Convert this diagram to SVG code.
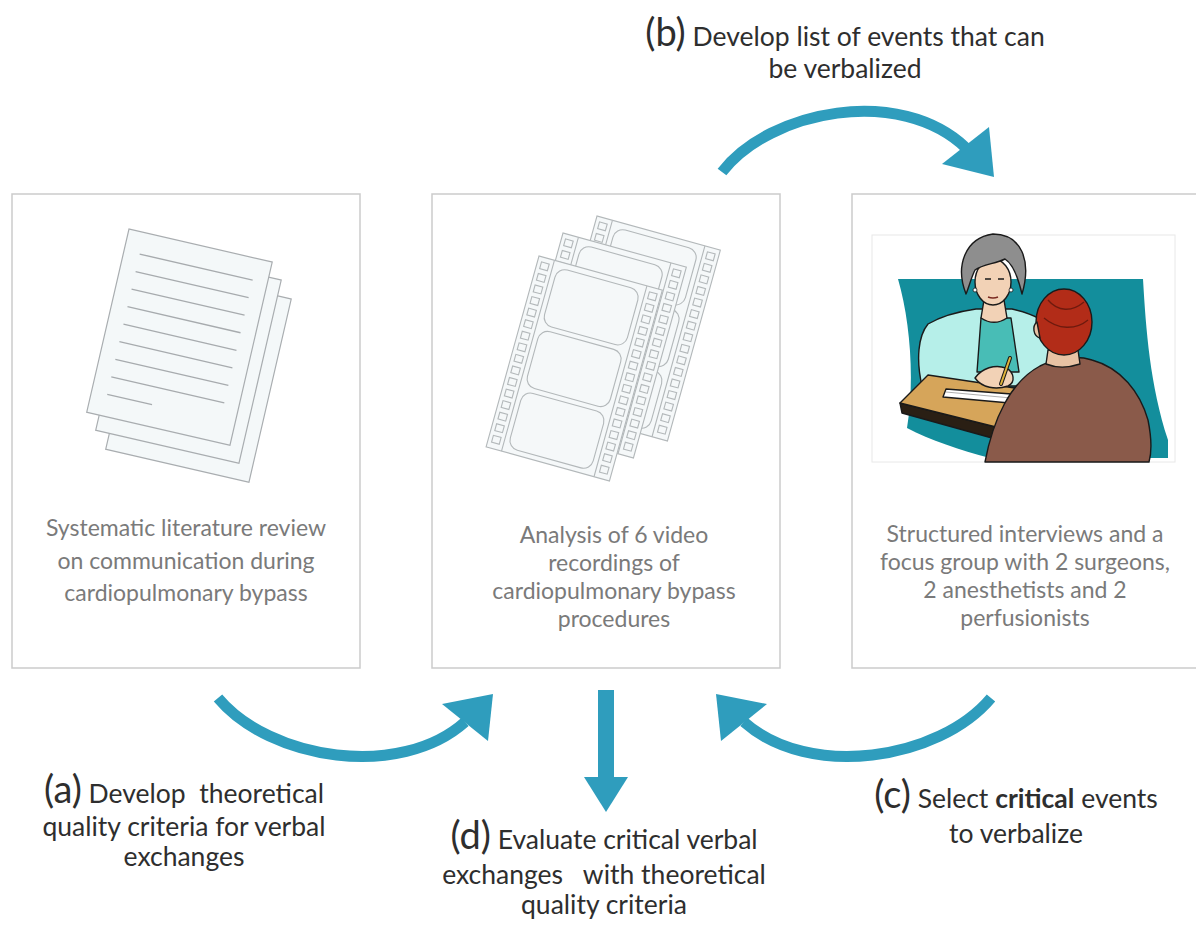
<svg xmlns="http://www.w3.org/2000/svg" width="1196" height="929" viewBox="0 0 1196 929">
  <style>
    .box { fill: #ffffff; stroke: #cbcbcb; stroke-width: 1.5; }
    .desc { font-family: Lato, "Liberation Sans", sans-serif; font-size: 23px; fill: #7a7a7a; text-anchor: middle; }
    .lbl { font-family: Lato, "Liberation Sans", sans-serif; font-size: 26.5px; fill: #2e2e2e; text-anchor: middle; }
    .tag { font-size: 38px; }
    .arc { fill: none; stroke: #2f9dbd; stroke-width: 11; }
    .head { fill: #2f9dbd; }
    .page { fill: #f4f8f9; stroke: #a9adb0; stroke-width: 1.2; }
    .pline { stroke: #a7abae; stroke-width: 1.3; }
    .film { fill: #f5f8f9; stroke: #b3b8ba; stroke-width: 1.1; }
    .ink { stroke: #1a1a1a; stroke-width: 1.4; stroke-linejoin: round; }
  </style>
  <defs>
    <g id="sheet">
      <rect class="page" x="0" y="0" width="147" height="188"/>
    </g>
    <g id="sheet-text">
      <rect class="page" x="0" y="0" width="147" height="188"/>
      <path class="pline" d="M16 22H132M16 40H132M16 58H132M16 76H132M16 94H132M16 112H132M16 130H132M16 148H132M16 166H62"/>
    </g>
    <g id="strip">
      <rect class="film" x="0" y="0" width="128" height="198"/>
      <path class="film" d="M16 0V198M112 0V198"/>
      <g class="film">
        <rect x="4" y="5" width="8" height="7"/><rect x="4" y="17" width="8" height="7"/><rect x="4" y="29" width="8" height="7"/><rect x="4" y="41" width="8" height="7"/>
        <rect x="4" y="53" width="8" height="7"/><rect x="4" y="65" width="8" height="7"/><rect x="4" y="77" width="8" height="7"/><rect x="4" y="89" width="8" height="7"/>
        <rect x="4" y="101" width="8" height="7"/><rect x="4" y="113" width="8" height="7"/><rect x="4" y="125" width="8" height="7"/><rect x="4" y="137" width="8" height="7"/>
        <rect x="4" y="149" width="8" height="7"/><rect x="4" y="161" width="8" height="7"/><rect x="4" y="173" width="8" height="7"/><rect x="4" y="185" width="8" height="7"/>
        <rect x="116" y="5" width="8" height="7"/><rect x="116" y="17" width="8" height="7"/><rect x="116" y="29" width="8" height="7"/><rect x="116" y="41" width="8" height="7"/>
        <rect x="116" y="53" width="8" height="7"/><rect x="116" y="65" width="8" height="7"/><rect x="116" y="77" width="8" height="7"/><rect x="116" y="89" width="8" height="7"/>
        <rect x="116" y="101" width="8" height="7"/><rect x="116" y="113" width="8" height="7"/><rect x="116" y="125" width="8" height="7"/><rect x="116" y="137" width="8" height="7"/>
        <rect x="116" y="149" width="8" height="7"/><rect x="116" y="161" width="8" height="7"/><rect x="116" y="173" width="8" height="7"/><rect x="116" y="185" width="8" height="7"/>
      </g>
      <rect class="film" x="21" y="6" width="86" height="59" rx="10"/>
      <rect class="film" x="21" y="70" width="86" height="59" rx="10"/>
      <rect class="film" x="21" y="134" width="86" height="59" rx="10"/>
    </g>
  </defs>

  <rect width="1196" height="929" fill="#ffffff"/>

  <!-- Step 1: literature review -->
  <g id="node-literature">
    <rect class="box" x="12" y="194" width="348" height="474"/>
    <use href="#sheet" transform="translate(148,266) rotate(13)"/>
    <use href="#sheet" transform="translate(138,247) rotate(13)"/>
    <use href="#sheet-text" transform="translate(129,229) rotate(13)"/>
    <text class="desc" x="186"><tspan x="186" y="536">Systematic literature review</tspan><tspan x="186" y="569">on communication during</tspan><tspan x="186" y="601">cardiopulmonary bypass</tspan></text>
  </g>

  <!-- Step 2: video analysis -->
  <g id="node-video">
    <rect class="box" x="432" y="194" width="348" height="474"/>
    <use href="#strip" transform="translate(597,216) rotate(15.5)"/>
    <use href="#strip" transform="translate(563,233) rotate(15.5)"/>
    <use href="#strip" transform="translate(539,256) rotate(15.5)"/>
    <text class="desc" x="614"><tspan x="614" y="543">Analysis of 6 video</tspan><tspan x="614" y="571">recordings of</tspan><tspan x="614" y="599">cardiopulmonary bypass</tspan><tspan x="614" y="627">procedures</tspan></text>
  </g>

  <!-- Step 3: interviews -->
  <g id="node-interviews">
    <rect class="box" x="852" y="194" width="360" height="474"/>
    <rect x="872" y="235" width="303" height="227" fill="#ffffff" stroke="#e8e8e8" stroke-width="1"/>
    <!-- backdrop -->
    <path d="M898 279 L1143 279 C1146 330 1150 385 1168 440 L1168 458 L990 458 C960 450 930 440 907 428 C915 380 910 320 898 279 Z" fill="#138e9c"/>
    <!-- interviewer -->
    <path class="ink" d="M928 324 C945 314 962 311 976 309 L1012 309 C1030 313 1046 320 1054 331 C1062 346 1056 366 1046 380 L1020 386 L922 386 C916 360 918 336 928 324 Z" fill="#b6efe9"/>
    <path class="ink" d="M981 318 L1011 318 L1019 372 L977 372 Z" fill="#48bdb6"/>
    <path class="ink" d="M984 300 L1004 300 L1007 318 C998 324 990 324 981 318 Z" fill="#f2d2b6"/>
    <ellipse class="ink" cx="993" cy="282" rx="18" ry="23" fill="#f2d2b6"/>
    <path class="ink" d="M966 294 C955 266 965 238 993 234 C1021 234 1032 260 1022 294 C1018 277 1013 264 1005 259 C995 264 983 264 975 270 C971 278 969 287 966 294 Z" fill="#8e8e8e"/>
    <path d="M985 279 h6 M998 279 h6" stroke="#1a1a1a" stroke-width="1.6"/>
    <path d="M988 297 q5 2 10 0" stroke="#7a2a20" stroke-width="1.4" fill="none"/>
    <circle cx="975" cy="290" r="2" fill="#ffffff" stroke="#1a1a1a" stroke-width="0.8"/>
    <circle cx="1011" cy="290" r="2" fill="#ffffff" stroke="#1a1a1a" stroke-width="0.8"/>
    <!-- desk and papers -->
    <path class="ink" d="M900 403 L902 413 L1010 443 L1012 431 Z" fill="#2a1f14"/>
    <path class="ink" d="M900 403 L928 375 L1042 392 L1012 431 Z" fill="#d6a55a"/>
    <path class="ink" d="M946 389 L1024 395 L1020 404 L943 397 Z" fill="#ffffff"/>
    <path d="M946 392 L1022 399" stroke="#9a9a9a" stroke-width="0.8"/>
    <!-- hands and pen -->
    <path class="ink" d="M975 378 C982 368 995 364 1006 368 C1014 372 1016 382 1008 386 C996 390 982 388 975 378 Z" fill="#f2d2b6"/>
    <path d="M1001 384 L1010 358" stroke="#1a1a1a" stroke-width="4" stroke-linecap="round"/>
    <path d="M1001 384 L1010 358" stroke="#e0b43c" stroke-width="2" stroke-linecap="round"/>
    <!-- interviewee -->
    <path class="ink" d="M985 462 C993 420 1010 382 1040 366 C1056 358 1076 355 1092 360 C1121 368 1140 392 1148 420 C1152 440 1151 455 1149 462 Z" fill="#8a5a4a"/>
    <path class="ink" d="M1048 350 L1078 350 L1080 364 C1068 368 1056 368 1046 364 Z" fill="#e8c2a4"/>
    <ellipse class="ink" cx="1064" cy="322" rx="28" ry="33" fill="#b22c18"/>
    <path d="M1048 300 C1058 312 1072 312 1084 302 M1044 318 C1058 330 1076 330 1088 320" stroke="#6e1a0e" stroke-width="1.3" fill="none"/>
    <path class="ink" d="M1037 322 C1032 326 1033 336 1040 338 Z" fill="#e8c2a4"/>
    <text class="desc" x="1025"><tspan x="1025" y="542">Structured interviews and a</tspan><tspan x="1025" y="570">focus group with 2 surgeons,</tspan><tspan x="1025" y="598">2 anesthetists and 2</tspan><tspan x="1025" y="626">perfusionists</tspan></text>
  </g>

  <!-- Connectors between steps -->
  <g id="connectors">
    <path class="arc" d="M722 172 C770 110 900 85 966 148"/>
    <polygon class="head" points="942,164 989,127 994,177"/>
    <path class="arc" d="M218 698 C270 760 400 780 465 722"/>
    <polygon class="head" points="442,704 493,694 488,741"/>
    <path class="arc" d="M991 698 C939 760 809 780 744 722"/>
    <polygon class="head" points="767,704 716,694 721,741"/>
    <rect class="head" x="598" y="690" width="16" height="88"/>
    <polygon class="head" points="584,777 628,777 606,812"/>
  </g>

  <!-- Step labels -->
  <g id="label-a">
    <text class="lbl"><tspan x="184" y="803"><tspan class="tag">(a)</tspan> Develop&#160; theoretical</tspan><tspan x="184" y="836">quality criteria for verbal</tspan><tspan x="184" y="866">exchanges</tspan></text>
  </g>
  <g id="label-b">
    <text class="lbl"><tspan x="845" y="46"><tspan class="tag">(b)</tspan> Develop list of events that can</tspan><tspan x="845" y="78">be verbalized</tspan></text>
  </g>
  <g id="label-c">
    <text class="lbl"><tspan x="1016" y="808"><tspan class="tag">(c)</tspan> Select <tspan font-weight="bold">critical</tspan> events</tspan><tspan x="1016" y="843">to verbalize</tspan></text>
  </g>
  <g id="label-d">
    <text class="lbl"><tspan x="604" y="849"><tspan class="tag">(d)</tspan> Evaluate critical verbal</tspan><tspan x="604" y="884">exchanges&#160;&#160; with theoretical</tspan><tspan x="604" y="914">quality criteria</tspan></text>
  </g>
</svg>
